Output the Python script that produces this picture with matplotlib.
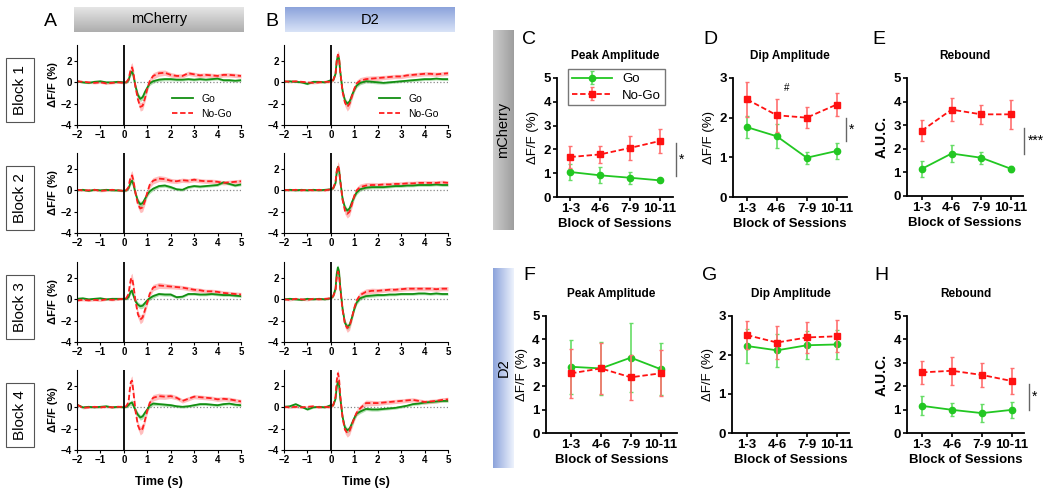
import matplotlib.pyplot as plt
import numpy as np

plt.rcParams['font.family'] = ['Liberation Sans', 'DejaVu Sans']

# ---------------- photometry traces (panels A, B) ----------------
t = [-2, -1.75, -1.5, -1.25, -1, -0.75, -0.5, -0.25, 0, 0.1, 0.2, 0.25, 0.3, 0.35,
     0.4, 0.5, 0.6, 0.7, 0.8, 0.9, 1.0, 1.1, 1.25, 1.5, 1.75, 2, 2.25, 2.5, 2.75,
     3, 3.25, 3.5, 3.75, 4, 4.25, 4.5, 4.75, 5]

a_go = [
    [0.1, 0.0, -0.05, 0.05, 0.1, 0.0, 0.0, 0.05, 0.0, 0.0, 0.2, 0.6, 0.9, 1.0, 0.7, -0.4, -1.2, -1.55, -1.4, -0.9, -0.5, -0.1, 0.1, 0.25, 0.3, 0.3, 0.25, 0.25, 0.3, 0.25, 0.3, 0.25, 0.3, 0.35, 0.2, 0.2, 0.15, 0.2],
    [0.0, 0.05, -0.05, 0.05, 0.0, 0.05, 0.0, 0.0, -0.05, 0.0, 0.2, 0.5, 0.8, 0.9, 0.6, -0.3, -1.0, -1.3, -1.2, -0.8, -0.4, -0.1, 0.15, 0.4, 0.45, 0.3, 0.1, 0.05, 0.3, 0.4, 0.35, 0.4, 0.45, 0.5, 0.75, 0.6, 0.45, 0.55],
    [0.05, 0.1, 0.0, 0.05, 0.1, 0.0, 0.05, 0.05, 0.05, 0.05, 0.2, 0.5, 0.75, 0.8, 0.4, -0.2, -0.5, -0.65, -0.6, -0.35, -0.1, 0.1, 0.3, 0.5, 0.45, 0.45, 0.2, 0.25, 0.5, 0.5, 0.45, 0.45, 0.5, 0.45, 0.4, 0.4, 0.35, 0.3],
    [0.25, 0.0, 0.05, 0.0, 0.05, 0.1, 0.0, 0.05, 0.0, 0.05, 0.2, 0.35, 0.4, 0.45, 0.2, -0.3, -0.7, -0.95, -0.85, -0.5, -0.2, 0.15, 0.35, 0.3, 0.25, 0.2, 0.1, 0.05, 0.1, 0.2, 0.3, 0.3, 0.25, 0.2, 0.3, 0.35, 0.25, 0.2],
]
a_nogo = [
    [0.1, 0.05, 0.0, -0.05, 0.0, -0.1, -0.05, 0.0, -0.05, 0.0, 0.3, 0.8, 1.3, 1.4, 1.0, -0.5, -1.6, -2.3, -2.2, -1.5, -0.6, 0.1, 0.6, 0.85, 0.9, 0.7, 0.6, 0.6, 0.85, 0.75, 0.65, 0.7, 0.65, 0.6, 0.7, 0.7, 0.65, 0.6],
    [0.05, 0.0, 0.0, 0.05, -0.05, 0.0, 0.05, 0.0, -0.05, 0.0, 0.3, 0.9, 1.3, 1.4, 1.0, -0.3, -1.3, -1.7, -1.6, -1.0, -0.2, 0.5, 0.9, 1.1, 1.05, 0.9, 0.85, 0.95, 0.9, 1.0, 0.9, 0.85, 0.85, 0.8, 0.7, 0.75, 0.8, 0.85],
    [-0.1, -0.05, -0.1, -0.05, -0.1, 0.0, -0.05, 0.0, 0.05, 0.1, 0.5, 1.3, 1.9, 2.0, 1.4, -0.2, -1.4, -1.9, -1.7, -1.0, -0.3, 0.5, 1.1, 1.3, 1.25, 1.2, 1.15, 1.1, 1.0, 0.9, 0.85, 0.75, 0.75, 0.7, 0.6, 0.55, 0.5, 0.45],
    [0.25, -0.05, 0.0, 0.05, 0.0, 0.05, 0.0, 0.05, 0.05, 0.1, 0.5, 1.6, 2.4, 2.5, 1.6, -0.4, -1.7, -2.2, -2.0, -1.2, -0.3, 0.4, 0.9, 1.05, 1.0, 1.05, 0.9, 0.6, 0.8, 1.0, 0.95, 0.9, 0.85, 0.75, 0.8, 0.75, 0.65, 0.55],
]
b_go = [
    [0.05, 0.1, 0.05, 0.0, -0.15, 0.05, 0.05, 0.0, 0.2, 0.2, 0.8, 2.0, 2.5, 2.2, 1.0, -0.8, -1.7, -2.0, -1.8, -1.2, -0.7, -0.3, -0.05, 0.1, 0.05, 0.0, -0.05, 0.0, 0.05, 0.1, 0.15, 0.2, 0.25, 0.3, 0.3, 0.35, 0.3, 0.3],
    [0.0, 0.05, 0.0, 0.05, 0.0, 0.05, 0.0, 0.05, 0.1, 0.2, 0.7, 1.7, 2.2, 1.9, 0.9, -0.8, -1.6, -1.9, -1.7, -1.1, -0.6, -0.2, 0.1, 0.25, 0.3, 0.3, 0.3, 0.35, 0.4, 0.4, 0.45, 0.45, 0.5, 0.5, 0.5, 0.55, 0.5, 0.5],
    [0.0, 0.05, 0.0, -0.05, 0.05, 0.0, 0.05, 0.0, 0.1, 0.3, 1.0, 2.4, 3.0, 2.6, 1.2, -0.9, -2.2, -2.6, -2.4, -1.7, -0.9, -0.3, 0.1, 0.3, 0.35, 0.4, 0.4, 0.45, 0.45, 0.5, 0.5, 0.5, 0.55, 0.55, 0.5, 0.55, 0.5, 0.5],
    [0.05, 0.1, 0.3, 0.05, -0.2, 0.0, 0.05, 0.0, 0.2, 0.2, 0.8, 1.9, 2.4, 2.1, 0.9, -0.9, -1.9, -2.15, -2.0, -1.5, -1.0, -0.6, -0.4, -0.15, -0.2, -0.2, -0.15, -0.1, -0.05, 0.05, 0.15, 0.3, 0.35, 0.45, 0.5, 0.55, 0.6, 0.6],
]
b_nogo = [
    [0.1, 0.05, 0.1, 0.05, 0.0, -0.05, 0.0, 0.05, 0.05, 0.2, 0.8, 2.0, 2.6, 2.3, 1.0, -0.9, -1.9, -2.3, -2.0, -1.3, -0.6, -0.1, 0.15, 0.3, 0.35, 0.4, 0.45, 0.5, 0.55, 0.55, 0.65, 0.7, 0.75, 0.8, 0.8, 0.75, 0.8, 0.85],
    [0.05, 0.0, 0.05, 0.0, 0.05, 0.0, 0.05, 0.0, 0.1, 0.2, 0.8, 1.8, 2.3, 2.0, 0.9, -0.9, -1.9, -2.2, -2.0, -1.3, -0.5, 0.0, 0.3, 0.45, 0.5, 0.5, 0.55, 0.55, 0.6, 0.6, 0.65, 0.65, 0.7, 0.7, 0.7, 0.7, 0.75, 0.7],
    [0.0, -0.05, 0.05, 0.0, -0.05, 0.05, 0.0, 0.05, 0.1, 0.3, 0.9, 2.1, 2.6, 2.3, 1.0, -1.0, -2.3, -2.7, -2.5, -1.7, -0.8, -0.1, 0.4, 0.7, 0.8, 0.8, 0.85, 0.9, 0.9, 0.95, 1.0, 1.0, 1.0, 1.0, 1.0, 0.95, 1.0, 1.0],
    [0.05, 0.0, 0.05, 0.0, 0.05, 0.1, 0.0, 0.05, 0.0, 0.2, 1.0, 2.5, 3.2, 2.7, 1.1, -1.0, -2.1, -2.4, -2.2, -1.6, -1.0, -0.5, -0.1, 0.4, 0.4, 0.4, 0.45, 0.5, 0.55, 0.6, 0.65, 0.7, 0.6, 0.5, 0.55, 0.6, 0.7, 0.75],
]

sem_go = [0.08, 0.08, 0.08, 0.08, 0.08, 0.08, 0.08, 0.08, 0.08, 0.1, 0.15, 0.2, 0.25, 0.25, 0.25, 0.25, 0.25, 0.25, 0.25, 0.25, 0.2, 0.2, 0.18,
          0.15, 0.15, 0.15, 0.12, 0.12, 0.12, 0.12, 0.12, 0.12, 0.12, 0.12, 0.12, 0.12, 0.12, 0.12]
sem_nogo = [0.1, 0.1, 0.1, 0.1, 0.1, 0.1, 0.1, 0.1, 0.1, 0.12, 0.2, 0.3, 0.4, 0.45, 0.4, 0.35, 0.35, 0.4, 0.4, 0.35, 0.3, 0.3, 0.3,
            0.28, 0.25, 0.22, 0.2, 0.2, 0.2, 0.2, 0.2, 0.2, 0.2, 0.2, 0.2, 0.2, 0.2, 0.2]

# ---------------- block summary (panels C-H) ----------------
blocks = ['1-3', '4-6', '7-9', '10-11']

c_go, c_go_err = [1.05, 0.91, 0.81, 0.70], [0.35, 0.33, 0.25, 0.05]
c_ng, c_ng_err = [1.68, 1.79, 2.06, 2.35], [0.47, 0.37, 0.50, 0.52]
d_go, d_go_err = [1.76, 1.53, 0.99, 1.16], [0.27, 0.30, 0.15, 0.20]
d_ng, d_ng_err = [2.46, 2.06, 2.00, 2.33], [0.44, 0.42, 0.27, 0.29]
e_go, e_go_err = [1.15, 1.80, 1.62, 1.15], [0.35, 0.35, 0.25, 0.12]
e_ng, e_ng_err = [2.77, 3.66, 3.46, 3.46], [0.44, 0.48, 0.41, 0.60]
f_go, f_go_err = [2.83, 2.76, 3.22, 2.73], [1.16, 1.15, 1.48, 1.10]
f_ng, f_ng_err = [2.55, 2.76, 2.38, 2.55], [1.05, 1.10, 0.97, 0.98]
g_go, g_go_err = [2.23, 2.12, 2.25, 2.27], [0.44, 0.42, 0.36, 0.38]
g_ng, g_ng_err = [2.51, 2.32, 2.45, 2.48], [0.36, 0.42, 0.40, 0.41]
h_go, h_go_err = [1.16, 0.99, 0.85, 0.99], [0.40, 0.28, 0.39, 0.33]
h_ng, h_ng_err = [2.59, 2.66, 2.48, 2.22], [0.50, 0.60, 0.51, 0.57]

W, H = 1050, 492
fig = plt.figure(figsize=(W / 100, H / 100), dpi=100)


def px_axes(left, top, width, height):
    return fig.add_axes([left / W, 1 - (top + height) / H, width / W, height / H])


def fig_text(xp, yp, s, **kw):
    return fig.text(xp / W, 1 - yp / H, s, **kw)


def gradient_box(left, top, width, height, c0, c1, vertical, text, rot):
    ax = px_axes(left, top, width, height)
    g = np.linspace(0, 1, 64)
    img = np.array([np.array(c0) * (1 - v) + np.array(c1) * v for v in g])
    img = img[:, None, :] if vertical else img[None, :, :]
    ax.imshow(img, aspect='auto', extent=(0, 1, 0, 1))
    ax.set_axis_off()
    ax.text(0.5, 0.5, text, ha='center', va='center', rotation=rot,
            fontsize=10.5, transform=ax.transAxes)


GREEN_T, RED_T = '#138f13', '#ff1f1f'

rows_top = [45, 153, 262, 370]
cols_left = [77, 284]
for j, (go_set, ng_set) in enumerate([(a_go, a_nogo), (b_go, b_nogo)]):
    for i in range(4):
        ax = px_axes(cols_left[j], rows_top[i], 164, 80)
        go = np.array(go_set[i])
        ng = np.array(ng_set[i])
        sg = np.array(sem_go)
        sn = np.array(sem_nogo)
        ax.fill_between(t, ng - sn, ng + sn, color='#ff8a8a', alpha=0.55, lw=0)
        ax.fill_between(t, go - sg, go + sg, color='#7fcc7f', alpha=0.6, lw=0)
        ax.axhline(0, color='#888888', ls=':', lw=0.9)
        ax.plot(t, go, color=GREEN_T, lw=1.3, label='Go')
        ax.plot(t, ng, color=RED_T, lw=1.3, ls=(0, (3, 1.5)), label='No-Go')
        ax.axvline(0, color='k', lw=1.3)
        ax.set_xlim(-2, 5)
        ax.set_ylim(-4, 3.5)
        ax.set_xticks(range(-2, 6))
        ax.set_yticks([-4, -2, 0, 2])
        for s in ('top', 'right'):
            ax.spines[s].set_visible(False)
        ax.tick_params(labelsize=7, length=2.5, width=0.8, pad=1)
        for lab in ax.get_xticklabels() + ax.get_yticklabels():
            lab.set_fontweight('bold')
        if j == 0:
            ax.set_ylabel('ΔF/F (%)', fontsize=8, fontweight='bold', labelpad=2)
        if i == 0:
            ax.legend(loc='lower right', frameon=False, fontsize=7.5,
                      handlelength=2.0, borderaxespad=0.2, bbox_to_anchor=(0.98, 0.0))
        if i == 3:
            ax.set_xlabel('Time (s)', fontsize=9, fontweight='bold', labelpad=8)

# block boxes on the left
for i in range(4):
    fig_text(20, rows_top[i] + 45, 'Block %d' % (i + 1), rotation=90,
             ha='center', va='center', fontsize=11,
             bbox=dict(boxstyle='square,pad=0.45', fc='white', ec='#555555', lw=0.8))

# header bars
gradient_box(74, 7, 170, 25, (0.90, 0.90, 0.90), (0.68, 0.68, 0.68), True, 'mCherry', 0)
gradient_box(285, 7, 170, 25, (0.55, 0.64, 0.86), (0.85, 0.89, 0.97), True, 'D2', 0)
fig_text(50, 22, 'A', fontsize=14, ha='center', va='center')
fig_text(272, 22, 'B', fontsize=14, ha='center', va='center')

# side bars for summary rows
gradient_box(493, 30, 21, 200, (0.80, 0.80, 0.80), (0.62, 0.62, 0.62), False, 'mCherry', 90)
gradient_box(493, 268, 21, 200, (0.55, 0.64, 0.86), (0.93, 0.95, 0.99), False, 'D2', 90)

GREEN, RED = '#22c722', '#ff1111'
x = np.arange(len(blocks))

panels = [
    ('C', 'Peak Amplitude', 557, 78, 116, 119, (-0.45, 3.45), 5, 'ΔF/F (%)', c_go, c_go_err, c_ng, c_ng_err),
    ('D', 'Dip Amplitude', 733, 78, 114, 119, (-0.47, 3.35), 3, 'ΔF/F (%)', d_go, d_go_err, d_ng, d_ng_err),
    ('E', 'Rebound', 907, 78, 116, 118, (-0.5, 3.4), 5, 'A.U.C.', e_go, e_go_err, e_ng, e_ng_err),
    ('F', 'Peak Amplitude', 546, 316, 131, 117, (-0.84, 3.55), 5, 'ΔF/F (%)', f_go, f_go_err, f_ng, f_ng_err),
    ('G', 'Dip Amplitude', 732, 316, 117, 117, (-0.5, 3.4), 3, 'ΔF/F (%)', g_go, g_go_err, g_ng, g_ng_err),
    ('H', 'Rebound', 907, 316, 117, 117, (-0.5, 3.4), 5, 'A.U.C.', h_go, h_go_err, h_ng, h_ng_err),
]
letter_pos = {'C': (529, 39), 'D': (710, 39), 'E': (879, 39),
              'F': (529, 275), 'G': (710, 275), 'H': (881, 276)}
axes = {}
for letter, title, l, tp, w, h, xl, ymax, ylab, go, goe, ng, nge in panels:
    ax = px_axes(l, tp, w, h)
    axes[letter] = ax
    ax.errorbar(x, ng, yerr=nge, color=RED, ls=(0, (3, 1.5)), lw=1.3, marker='s', ms=5,
                ecolor='#ff7070', elinewidth=1.2, capsize=1.5, label='No-Go', zorder=3)
    ax.errorbar(x, go, yerr=goe, color=GREEN, ls='-', lw=1.3, marker='o', ms=4.5,
                ecolor='#66dd66', elinewidth=1.2, capsize=1.5, label='Go', zorder=2)
    ax.set_xlim(*xl)
    ax.set_ylim(0, ymax)
    ax.set_yticks(range(0, ymax + 1))
    ax.set_xticks(x)
    ax.set_xticklabels(blocks)
    for s in ('top', 'right'):
        ax.spines[s].set_visible(False)
    for s in ('left', 'bottom'):
        ax.spines[s].set_linewidth(1.3)
    ax.tick_params(labelsize=9.5, length=3, width=1.2, pad=1.5)
    for lab in ax.get_xticklabels() + ax.get_yticklabels():
        lab.set_fontweight('bold')
    ax.set_xlabel('Block of Sessions', fontsize=9.5, fontweight='bold', labelpad=2)
    if ylab == 'A.U.C.':
        ax.set_ylabel(ylab, fontsize=10, fontweight='bold', labelpad=3)
    else:
        ax.set_ylabel(ylab, fontsize=9.5, labelpad=3)
    ax.set_title(title, fontsize=8.5, fontweight='bold', pad=14)
    fig_text(*letter_pos[letter], letter, fontsize=14, ha='center', va='center')

# legend in C
hnd, lbl = axes['C'].get_legend_handles_labels()
axes['C'].legend(hnd[::-1], lbl[::-1], loc='upper left', bbox_to_anchor=(0.04, 1.13),
                 fontsize=9.5, frameon=True, fancybox=False, edgecolor='#555555',
                 handlelength=3.0, borderpad=0.3, labelspacing=0.3)

# significance marks
marks = [('C', 3.55, 0.9, 2.25, '*'), ('D', 3.3, 1.4, 2.0, '*'), ('E', 3.45, 1.8, 2.9, '***'),
         ('H', 3.55, 1.0, 2.1, '*')]
for letter, xm, y0, y1, s in marks:
    ax = axes[letter]
    ax.plot([xm, xm], [y0, y1], color='#666666', lw=1.0, clip_on=False)
    ax.text(xm + 0.1, (y0 + y1) / 2, s, fontsize=10, ha='left', va='center', clip_on=False)
axes['D'].text(1.33, 2.75, '#', fontsize=7, ha='center', va='center')

fig.savefig('out.png', dpi=100)
